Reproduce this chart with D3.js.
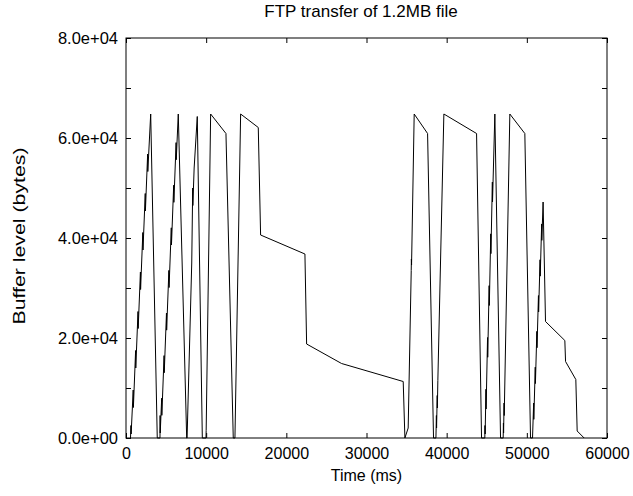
<!DOCTYPE html>
<html>
<head>
<meta charset="utf-8">
<script src="https://cdn.jsdelivr.net/npm/d3@7"></script>
<style>
  body { margin: 0; background: #fff; }
  text { font-family: "Liberation Sans", Arial, sans-serif; fill: #000; }
</style>
</head>
<body>
<svg id="chart" width="633" height="496"></svg>
<script>
// buffer trace, one line per fill/drain cycle
var timeMs = [
  560, 620, 640, 900, 920, 1200, 1220, 1500, 1520, 1800, 1820, 2100, 2120, 2400, 2420, 2700, 2720, 3080, 3900,
  4240, 4255, 4270, 4450, 4470, 4750, 4770, 5050, 5070, 5350, 5370, 5650, 5670, 5950, 5970, 6250, 6270, 6520, 7570,
  7620, 8200, 8320, 8340, 8500, 8890, 9520,
  9980, 10000, 10560, 12470, 13380,
  13590, 14300, 16500, 16790, 22320, 22530, 26890, 34580, 34790,
  35200, 35580, 35600, 35620, 35950, 37620, 38360,
  38660, 38720, 38740, 38820, 38840, 38900, 39650, 43730, 44350,
  44760, 44780, 44800, 44900, 44920, 45100, 45120, 45300, 45320, 45500, 45520, 45700, 45720, 46010, 46720,
  47050, 47080, 47100, 47160, 47180, 47880, 49750, 50460,
  50710, 50850, 50870, 51050, 51070, 51250, 51270, 51450, 51470, 51650, 51670, 51850, 51870, 52030, 52330, 54740, 54830, 56110, 56280, 57150
];
var bufferBytes = [
  0, 2500, 800, 9600, 6100, 17500, 14000, 25300, 21900, 33200, 29700, 41100, 37600, 48900, 45400, 56800, 53300, 64800, 0,
  0, 4500, 1000, 7960, 4530, 16480, 13050, 25000, 21570, 33520, 30090, 42040, 38610, 50560, 47130, 59080, 55650, 64800, 0,
  0, 35000, 50000, 46500, 54000, 64300, 0,
  0, 1500, 64800, 60900, 0,
  0, 64800, 62100, 40600, 36800, 18800, 14900, 11300, 0,
  2000, 33500, 35800, 34600, 64800, 60900, 0,
  0, 4500, 2000, 8500, 6000, 11500, 64800, 60900, 0,
  0, 2500, 800, 9750, 5790, 20100, 16150, 30470, 26510, 40830, 36870, 51190, 47230, 64800, 0,
  0, 3000, 1000, 7000, 4500, 64800, 60900, 0,
  0, 7000, 3730, 14170, 10890, 21330, 18050, 28490, 25210, 35650, 32370, 42810, 39530, 47200, 23300, 19500, 15300, 11700, 1400, 0
];

var xTicks = [0, 10000, 20000, 30000, 40000, 50000, 60000];
var yTicks = [0, 10000, 20000, 30000, 40000, 50000, 60000, 70000, 80000];
var yLabelled = [0, 20000, 40000, 60000, 80000];

(function(){
  var svg = d3.select("#chart");
  var mLeft = 126, mRight = 607, mTop = 38, mBottom = 438;

  var x = d3.scaleLinear().domain([0, 60000]).range([mLeft, mRight]);
  var y = d3.scaleLinear().domain([0, 80000]).range([mBottom, mTop]);

  function expFmt(d){
    var parts = d.toExponential(1).split("e");   // "8.0e+4"
    var digits = parts[1].slice(1);
    if(digits.length < 2) digits = "0" + digits;
    return parts[0] + "e" + parts[1].charAt(0) + digits;
  }

  // ticks point inward on all four sides
  var xAxis = svg.append("g").attr("transform", "translate(0," + mBottom + ")")
    .call(d3.axisBottom(x).tickValues(xTicks).tickSizeInner(-5).tickSizeOuter(0).tickPadding(10)
      .tickFormat(d3.format("d")));
  xAxis.select(".domain").remove();
  xAxis.selectAll("text").style("font-size", "16px").attr("font-family", null);

  var xTop = svg.append("g").attr("transform", "translate(0," + mTop + ")")
    .call(d3.axisTop(x).tickValues(xTicks).tickSizeInner(-5).tickSizeOuter(0).tickFormat(""));
  xTop.select(".domain").remove();

  var yAxis = svg.append("g").attr("transform", "translate(" + mLeft + ",0)")
    .call(d3.axisLeft(y).tickValues(yTicks).tickSizeInner(-5).tickSizeOuter(0).tickPadding(8)
      .tickFormat(function(d){ return yLabelled.indexOf(d) >= 0 ? expFmt(d) : ""; }));
  yAxis.select(".domain").remove();
  yAxis.selectAll("text").style("font-size", "16.5px").attr("font-family", null);

  var yRight = svg.append("g").attr("transform", "translate(" + mRight + ",0)")
    .call(d3.axisRight(y).tickValues(yTicks).tickSizeInner(-5).tickSizeOuter(0).tickFormat(""));
  yRight.select(".domain").remove();

  svg.selectAll(".tick line").attr("stroke", "#000");

  // frame
  svg.append("rect").attr("x", mLeft).attr("y", mTop).attr("width", mRight - mLeft).attr("height", mBottom - mTop)
    .attr("fill", "none").attr("stroke", "#000").attr("stroke-width", 1);

  var pts = timeMs.map(function(t, i){ return [t, bufferBytes[i]]; });
  var line = d3.line().x(function(d){ return x(d[0]); }).y(function(d){ return y(d[1]); });

  svg.append("path").datum(pts).attr("d", line)
    .attr("fill", "none").attr("stroke", "#000").attr("stroke-width", 1);

  svg.append("text").attr("x", 361).attr("y", 17).attr("text-anchor", "middle")
    .style("font-size", "17px").text("FTP transfer of 1.2MB file");

  svg.append("text").attr("x", (mLeft + mRight) / 2).attr("y", 481).attr("text-anchor", "middle")
    .style("font-size", "16px").text("Time (ms)");

  svg.append("text").attr("transform", "translate(25,236) rotate(-90)").attr("text-anchor", "middle")
    .attr("textLength", 177).attr("lengthAdjust", "spacingAndGlyphs")
    .style("font-size", "16.5px").text("Buffer level (bytes)");
})();
</script>
</body>
</html>
